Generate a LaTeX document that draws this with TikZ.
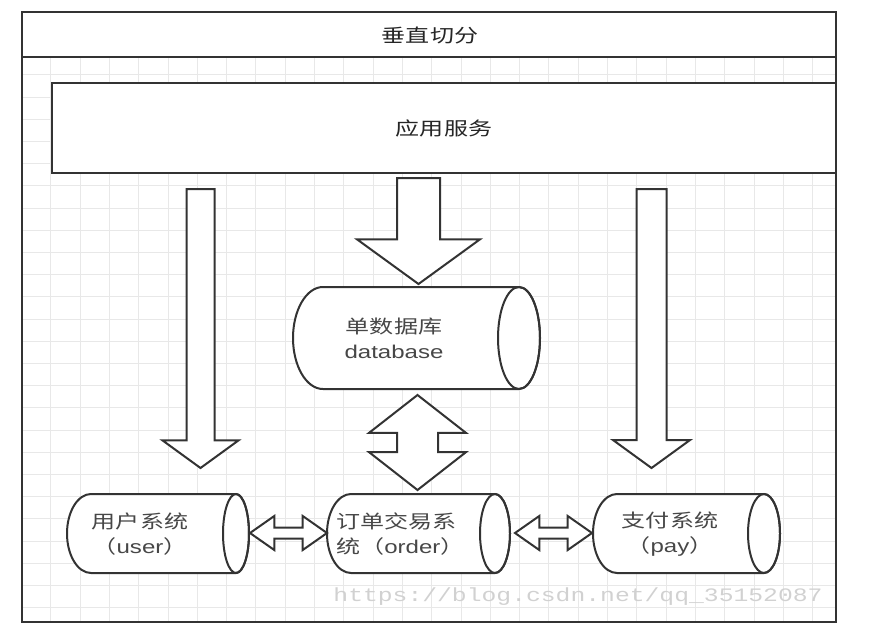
\documentclass[tikz,border=0pt]{standalone}
\usepackage{fontspec}
\setmainfont{Liberation Sans}[FakeStretch=1.3]
\newfontfamily\cjk{Noto Sans CJK SC}[FakeStretch=1.3]
\newfontfamily\wmfont{Liberation Mono}[FakeStretch=1.3]
\usetikzlibrary{shapes.arrows}

\tikzset{
  outline/.style={draw=black!80, line width=2pt},
  gridline/.style={draw=black!9, line width=0.8pt},
  lbl/.style={font=\fontsize{18.5}{25}\selectfont, text=black!72, inner sep=0pt},
  blockdown/.style={outline, fill=white, single arrow, rotate=-90, inner sep=0pt,
    outer sep=0pt, minimum width=0pt, single arrow tip angle=108, anchor=tail},
  blockboth/.style={outline, fill=white, double arrow, inner sep=0pt, outer sep=0pt,
    minimum width=0pt}
}

% drum: left x, top y, centre x of right end, bottom y, left rx, right rx
\newcommand{\drum}[6]{%
  \draw[outline, fill=white] (#3,#2) -- ({#1+#5},#2)
    arc[start angle=270, end angle=90, x radius=#5, y radius={(#4-#2)/2}]
    -- (#3,#4)
    arc[start angle=90, end angle=-90, x radius=#6, y radius={(#4-#2)/2}] -- cycle;
  \draw[outline] (#3,{(#2+#4)/2}) ellipse[x radius=#6, y radius={(#4-#2)/2}];
}

\begin{document}
\begin{tikzpicture}[x=1pt, y=-1pt]
  \useasboundingbox (0,0) rectangle (888,640);

  % Frame size
  \def\fl{22}
  \def\fr{836}
  \def\ft{12}
  \def\fb{622}
  \def\bar{57}

  % Grid
  \begin{scope}
    \clip (\fl,\bar) rectangle (\fr,\fb);
    \foreach \i in {0,...,27}
      \draw[gridline] ({50.7+29.3*\i},\bar) -- ({50.7+29.3*\i},\fb);
    \foreach \j in {0,...,25}
      \draw[gridline] (\fl,{74.8+22.2*\j}) -- (\fr,{74.8+22.2*\j});
  \end{scope}

  % Frame with title bar
  \draw[outline] (\fl,\ft) rectangle (\fr,\fb);
  \draw[outline] (\fl,\bar) -- (\fr,\bar);
  \node[lbl, text=black!85] (title) at (430,35) {\cjk 垂直切分};

  % Application layer
  \node[outline, fill=white, lbl, text=black!85, minimum width=784pt,
    minimum height=90pt] (app) at (444,128) {\cjk 应用服务};

  % Arrows down from the application
  \node[blockdown, inner ysep=13pt, single arrow head extend=24pt,
    minimum height=279pt] (toUser) at (200.5,189) {};
  \node[blockdown, inner ysep=14pt, single arrow head extend=23.5pt,
    minimum height=279pt] (toPay) at (651.5,189) {};
  \node[blockdown, inner ysep=20.5pt, single arrow head extend=40pt,
    minimum height=106pt] (toDb) at (418.5,178) {};

  % Database
  \drum{293}{287}{519}{389}{30}{21}
  \node[lbl, align=center] (db) at (394,338) {{\cjk 单数据库}\\database};

  % Systems
  \drum{67}{494}{236}{573}{24}{13}
  \node[lbl, align=center] (user) at (140,534) {{\cjk 用户系统}\\{\cjk （}user{\cjk ）}};

  \drum{327}{494}{495}{573}{24}{15}
  \node[lbl, align=left, anchor=west] (order) at (336,534)
    {{\cjk 订单交易系}\\{\cjk 统（}order{\cjk ）}};

  \drum{593}{494}{764}{573}{24}{16}
  \node[lbl, align=center] (pay) at (670,534) {{\cjk 支付系统}\\{\cjk （}pay{\cjk ）}};

  % Two-way arrows
  \node[blockboth, rotate=90, inner ysep=19.5pt, double arrow head extend=28pt,
    double arrow tip angle=104, minimum height=95pt] (dbOrder) at (417.5,442.5) {};
  \node[blockboth, inner ysep=4.5pt, double arrow head extend=11.5pt,
    double arrow tip angle=70, minimum height=77pt] (userOrder) at (288.5,533) {};
  \node[blockboth, inner ysep=4.5pt, double arrow head extend=11.5pt,
    double arrow tip angle=70, minimum height=77pt] (orderPay) at (553.5,533) {};

  % Watermark
  \node[font=\wmfont\fontsize{19}{19}\selectfont, text=black!18, inner sep=0pt]
    (mark) at (578,597) {https://blog.csdn.net/qq\_35152087};
\end{tikzpicture}
\end{document}
